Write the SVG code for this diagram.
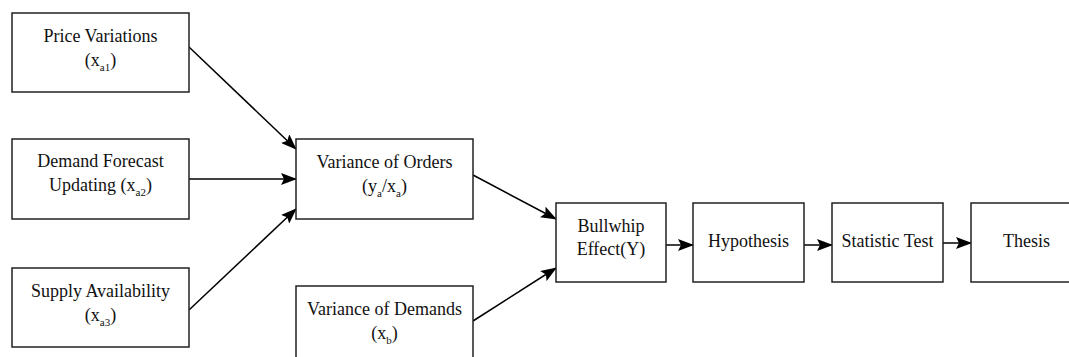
<svg xmlns="http://www.w3.org/2000/svg" width="1069" height="357" viewBox="0 0 1069 357">
<style>
.box{fill:#fff;stroke:#222;stroke-width:1.5}
.t{font-family:"Liberation Serif","Times New Roman",serif;font-size:18px;fill:#111;text-anchor:middle}
.s{font-size:11px}
.c{stroke:#000;stroke-width:1.5;fill:none;marker-end:url(#ah)}
</style>
<defs>
<marker id="ah" markerWidth="16" markerHeight="12" refX="15" refY="6" orient="auto" markerUnits="userSpaceOnUse">
<path d="M0,0 L16,6 L0,12 L3,6 Z" fill="#000"/>
</marker>
</defs>
<g id="connectors">
<line class="c" x1="189" y1="47" x2="296" y2="149"/>
<line class="c" x1="189" y1="179" x2="296" y2="179"/>
<line class="c" x1="189" y1="310" x2="296" y2="209"/>
<line class="c" x1="473" y1="175" x2="556" y2="219"/>
<line class="c" x1="473" y1="321" x2="556" y2="268"/>
<line class="c" x1="666" y1="245" x2="693" y2="245"/>
<line class="c" x1="804" y1="245" x2="832" y2="245"/>
<line class="c" x1="943" y1="243" x2="971" y2="243"/>
</g>
<g id="price">
<rect class="box" x="12" y="13" width="177" height="79"/>
<text class="t" x="100.5" y="42">Price Variations</text>
<text class="t" x="100.5" y="66">(x<tspan class="s" dy="5">a1</tspan><tspan dy="-5">)</tspan></text>
</g>
<g id="demandforecast">
<rect class="box" x="12" y="139" width="177" height="80"/>
<text class="t" x="100.5" y="167">Demand Forecast</text>
<text class="t" x="100.5" y="191">Updating (x<tspan class="s" dy="5">a2</tspan><tspan dy="-5">)</tspan></text>
</g>
<g id="supply">
<rect class="box" x="12" y="268" width="177" height="79"/>
<text class="t" x="100.5" y="297">Supply Availability</text>
<text class="t" x="100.5" y="321">(x<tspan class="s" dy="5">a3</tspan><tspan dy="-5">)</tspan></text>
</g>
<g id="orders">
<rect class="box" x="296" y="139" width="177" height="80"/>
<text class="t" x="384.5" y="168">Variance of Orders</text>
<text class="t" x="384.5" y="192">(y<tspan class="s" dy="5">a</tspan><tspan dy="-5">/x</tspan><tspan class="s" dy="5">a</tspan><tspan dy="-5">)</tspan></text>
</g>
<g id="demands">
<rect class="box" x="296" y="286" width="177" height="80"/>
<text class="t" x="384.5" y="315">Variance of Demands</text>
<text class="t" x="384.5" y="339">(x<tspan class="s" dy="5">b</tspan><tspan dy="-5">)</tspan></text>
</g>
<g id="bullwhip">
<rect class="box" x="556" y="203" width="110" height="79"/>
<text class="t" x="611" y="232">Bullwhip</text>
<text class="t" x="611" y="255">Effect(Y)</text>
</g>
<g id="hypothesis">
<rect class="box" x="693" y="203" width="111" height="79"/>
<text class="t" x="748.5" y="247">Hypothesis</text>
</g>
<g id="stattest">
<rect class="box" x="832" y="203" width="111" height="79"/>
<text class="t" x="887.5" y="247">Statistic Test</text>
</g>
<g id="thesis">
<rect class="box" x="971" y="203" width="111" height="79"/>
<text class="t" x="1026.5" y="247">Thesis</text>
</g>
</svg>
